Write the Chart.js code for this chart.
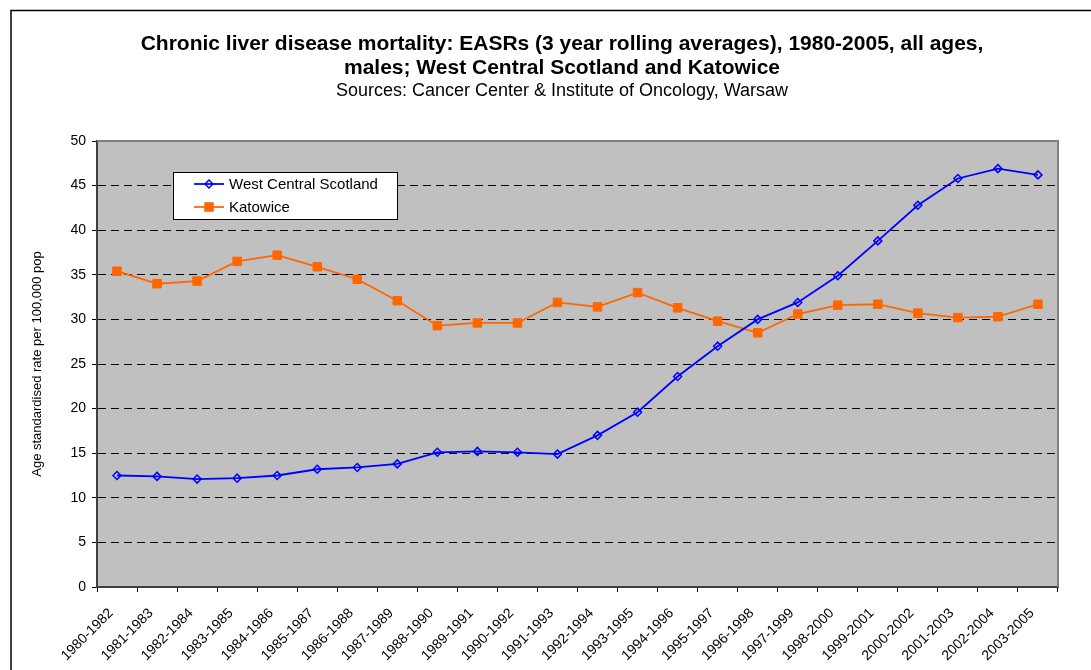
<!DOCTYPE html>
<html>
<head>
<meta charset="utf-8">
<script src="https://cdn.jsdelivr.net/npm/chart.js@4/dist/chart.umd.min.js"></script>
<style>
  html, body { margin: 0; padding: 0; background: #ffffff; }
  #wrap { width: 1091px; height: 670px; position: relative; }
</style>
</head>
<body>
<div id="wrap"><canvas id="c" width="1091" height="670"></canvas></div>
<script>
// Three-year rolling periods
const periods = [
  '1980-1982', '1981-1983', '1982-1984', '1983-1985', '1984-1986', '1985-1987',
  '1986-1988', '1987-1989', '1988-1990', '1989-1991', '1990-1992', '1991-1993',
  '1992-1994', '1993-1995', '1994-1996', '1995-1997', '1996-1998', '1997-1999',
  '1998-2000', '1999-2001', '2000-2002', '2001-2003', '2002-2004', '2003-2005'
];

// EASR per 100,000, males, all ages
const westCentralScotland = [
  12.5, 12.4, 12.1, 12.2, 12.5, 13.2, 13.4, 13.8, 15.1, 15.2, 15.1, 14.9,
  17.0, 19.6, 23.6, 27.0, 30.0, 31.9, 34.9, 38.8, 42.8, 45.8, 46.9, 46.2
];
const katowice = [
  35.4, 34.0, 34.3, 36.5, 37.2, 35.9, 34.5, 32.1, 29.3, 29.6, 29.6, 31.9,
  31.4, 33.0, 31.3, 29.8, 28.5, 30.6, 31.6, 31.7, 30.7, 30.2, 30.3, 31.7
];

// Value axis range
const yMin = 0;
const yMax = 50;
const yStep = 5;

const titleLines = [
  'Chronic liver disease mortality: EASRs (3 year rolling averages), 1980-2005, all ages,',
  'males; West Central Scotland and Katowice'
];
const subtitleText = 'Sources: Cancer Center & Institute of Oncology, Warsaw';
const yAxisTitle = 'Age standardised rate per 100,000 pop';

const FONT = '"Liberation Sans", Arial, Helvetica, sans-serif';

// Background, outer frame, grey plot area and its top/right edges
const framePlugin = {
  id: 'frame',
  beforeDraw(chart) {
    const { ctx, chartArea: a } = chart;
    ctx.save();
    ctx.fillStyle = '#ffffff';
    ctx.fillRect(0, 0, chart.width, chart.height);
    ctx.strokeStyle = '#000000';
    ctx.lineWidth = 1.5;
    ctx.strokeRect(11, 10.5, 2000, 2000);
    ctx.fillStyle = '#c0c0c0';
    ctx.fillRect(a.left, a.top, a.right - a.left, a.bottom - a.top);
    ctx.restore();
  },
  beforeDatasetsDraw(chart) {
    const { ctx, chartArea: a } = chart;
    ctx.save();
    ctx.strokeStyle = '#808080';
    ctx.lineWidth = 2;
    ctx.beginPath();
    ctx.moveTo(a.left, a.top);
    ctx.lineTo(a.right, a.top);
    ctx.lineTo(a.right, a.bottom);
    ctx.stroke();
    ctx.restore();
  }
};

// Title block above the plot
const headingPlugin = {
  id: 'heading',
  afterDraw(chart) {
    const { ctx } = chart;
    const cx = 562;
    ctx.save();
    ctx.fillStyle = '#000000';
    ctx.textAlign = 'center';
    ctx.textBaseline = 'middle';
    ctx.font = 'bold 21px ' + FONT;
    ctx.fillText(titleLines[0], cx, 44);
    ctx.fillText(titleLines[1], cx, 68);
    ctx.font = '18px ' + FONT;
    ctx.fillText(subtitleText, cx, 91);
    ctx.restore();
  }
};

// Boxed legend inside the plot area
const boxLegendPlugin = {
  id: 'boxLegend',
  afterDraw(chart) {
    const { ctx } = chart;
    const x = 173, y = 172, w = 224, h = 47;
    ctx.save();
    ctx.fillStyle = '#ffffff';
    ctx.fillRect(x, y, w, h);
    ctx.strokeStyle = '#000000';
    ctx.lineWidth = 1;
    ctx.strokeRect(x + 0.5, y + 0.5, w, h);
    const rows = [184, 207];
    chart.data.datasets.forEach((ds, i) => {
      const ry = rows[i];
      ctx.strokeStyle = ds.borderColor;
      ctx.lineWidth = ds.borderWidth;
      ctx.beginPath();
      ctx.moveTo(194, ry);
      ctx.lineTo(224, ry);
      ctx.stroke();
      ctx.fillStyle = ds.pointBackgroundColor;
      ctx.strokeStyle = ds.pointBorderColor;
      ctx.lineWidth = ds.pointBorderWidth;
      ctx.beginPath();
      if (ds.pointStyle === 'rect') {
        const s = Math.SQRT1_2 * ds.pointRadius;
        ctx.rect(209 - s, ry - s, 2 * s, 2 * s);
      } else {
        const r = ds.pointRadius;
        ctx.moveTo(209 - r, ry);
        ctx.lineTo(209, ry - r);
        ctx.lineTo(209 + r, ry);
        ctx.lineTo(209, ry + r);
        ctx.closePath();
      }
      ctx.fill();
      ctx.stroke();
      ctx.fillStyle = '#000000';
      ctx.font = '15px ' + FONT;
      ctx.textAlign = 'left';
      ctx.textBaseline = 'middle';
      ctx.fillText(ds.label, 229, ry + 1);
    });
    ctx.restore();
  }
};

new Chart(document.getElementById('c'), {
  type: 'line',
  data: {
    labels: periods,
    datasets: [
      {
        label: 'West Central Scotland',
        data: westCentralScotland,
        borderColor: '#0000ff',
        borderWidth: 1.8,
        pointStyle: 'rectRot',
        pointRadius: 4,
        pointBorderWidth: 1.5,
        pointBackgroundColor: 'rgba(0,0,0,0)',
        pointBorderColor: '#0000ff',
        tension: 0
      },
      {
        label: 'Katowice',
        data: katowice,
        borderColor: '#ff6600',
        borderWidth: 1.8,
        pointStyle: 'rect',
        pointRadius: 6,
        pointBorderWidth: 1,
        pointBackgroundColor: '#ff6600',
        pointBorderColor: '#ff6600',
        tension: 0
      }
    ]
  },
  options: {
    responsive: false,
    animation: false,
    devicePixelRatio: 1,
    layout: { padding: { top: 141, left: 20, right: 33, bottom: 0 } },
    plugins: {
      legend: { display: false },
      title: { display: false },
      tooltip: { enabled: false }
    },
    scales: {
      x: {
        type: 'category',
        offset: true,
        grid: {
          offset: true,
          drawOnChartArea: false,
          drawTicks: true,
          tickLength: 5,
          tickColor: '#000000',
          tickWidth: 1
        },
        border: { display: true, color: '#404040', width: 2 },
        ticks: {
          color: '#000000',
          font: { family: FONT, size: 14 },
          maxRotation: 45,
          minRotation: 45,
          autoSkip: false,
          padding: 13,
          labelOffset: -6
        },
        afterFit(scale) { scale.height = 83; }
      },
      y: {
        min: yMin,
        max: yMax,
        grid: {
          color: (c) => (c.tick && (c.tick.value === yMin || c.tick.value === yMax)) ? 'rgba(0,0,0,0)' : '#000000',
          lineWidth: 1,
          drawTicks: true,
          tickLength: 5,
          tickColor: '#000000',
          tickWidth: 1,
          tickBorderDash: []
        },
        border: { display: true, color: '#404040', width: 2, dash: [8, 5] },
        ticks: {
          stepSize: yStep,
          color: '#000000',
          font: { family: FONT, size: 14 },
          padding: 6
        },
        title: {
          display: true,
          text: yAxisTitle,
          color: '#000000',
          font: { family: FONT, size: 13 },
          padding: { top: 10, bottom: 0 }
        },
        afterFit(scale) { scale.width = 77; }
      }
    }
  },
  plugins: [framePlugin, headingPlugin, boxLegendPlugin]
});
</script>
</body>
</html>
